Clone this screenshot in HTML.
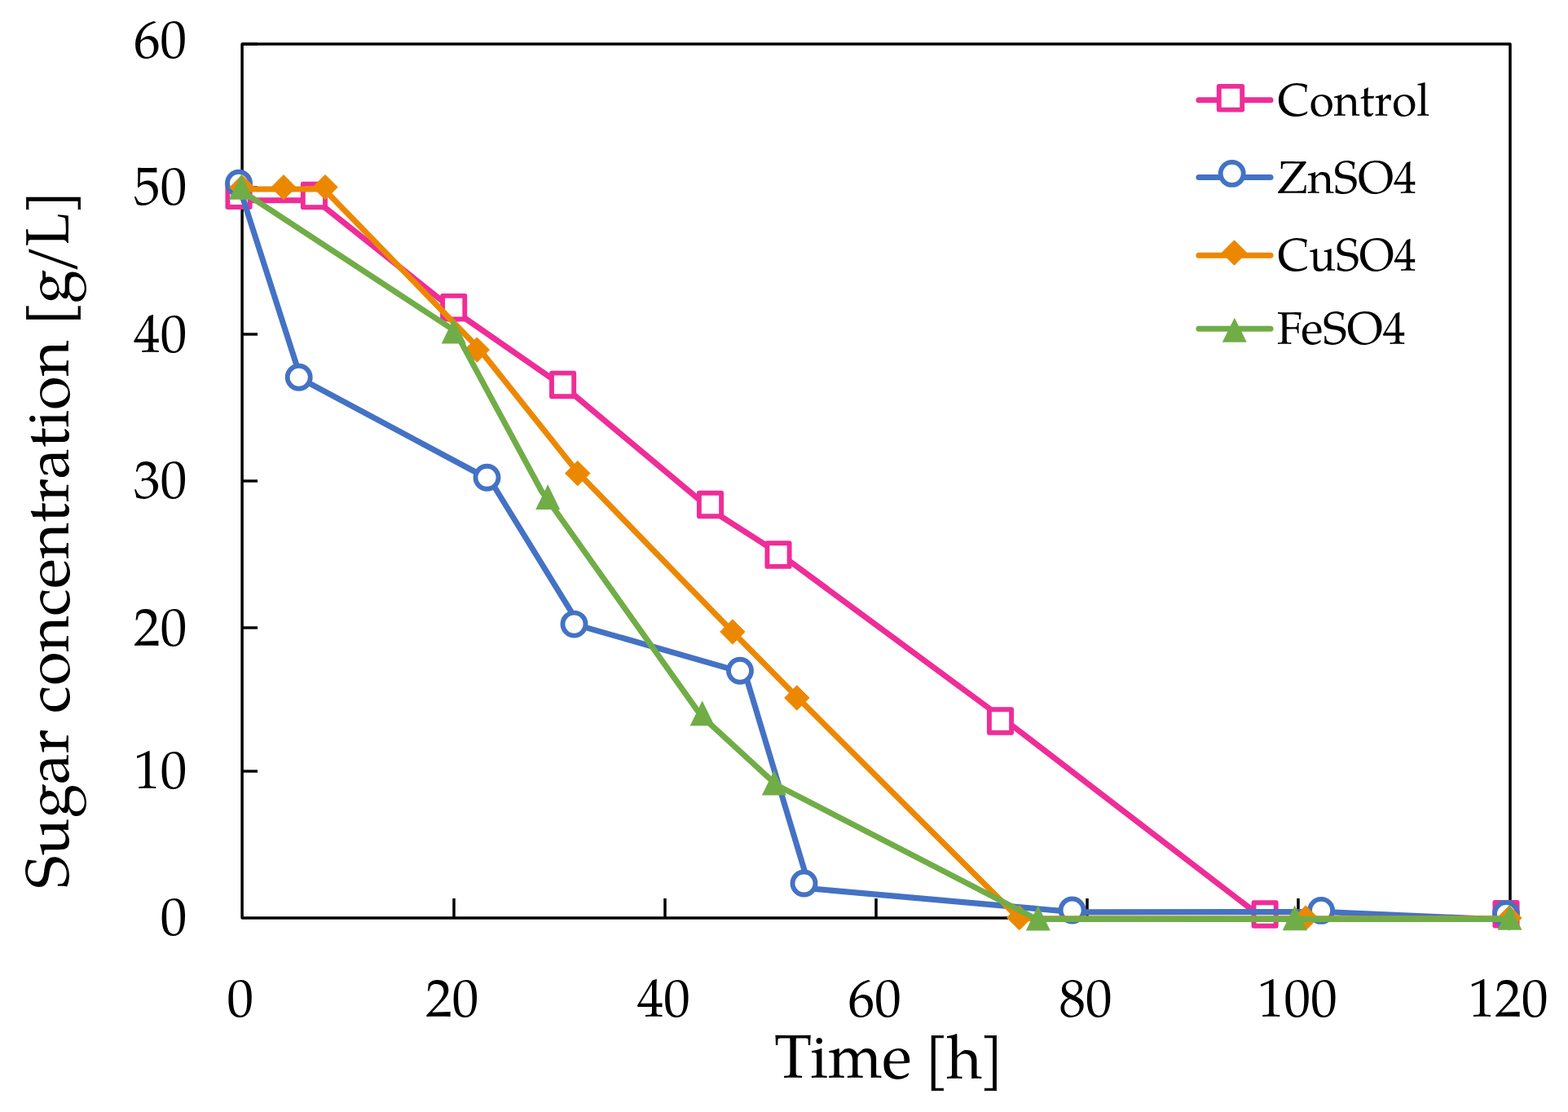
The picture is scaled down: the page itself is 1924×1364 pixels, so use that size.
<!DOCTYPE html>
<html><head><meta charset="utf-8"><title>Sugar concentration chart</title>
<style>
html,body{margin:0;padding:0;background:#fff;}
body{width:1924px;height:1364px;overflow:hidden;}
svg{display:block;}
text{font-family:'TeX Gyre Pagella', 'Palatino Linotype', 'Book Antiqua', Palatino, 'Liberation Serif', serif;fill:#000;}
</style></head><body>
<svg width="1924" height="1364" viewBox="0 0 1924 1364">
<rect width="1924" height="1364" fill="#fff"/>
<path d="M297.1,54 H1853 V1125.9 H297.1 Z" fill="none" stroke="#000" stroke-width="3.5" stroke-linejoin="round"/>
<line x1="297.1" y1="946" x2="316" y2="946" stroke="#000" stroke-width="3.4"/>
<line x1="297.1" y1="770" x2="316" y2="770" stroke="#000" stroke-width="3.4"/>
<line x1="297.1" y1="590" x2="316" y2="590" stroke="#000" stroke-width="3.4"/>
<line x1="297.1" y1="410" x2="316" y2="410" stroke="#000" stroke-width="3.4"/>
<line x1="297.1" y1="230" x2="316" y2="230" stroke="#000" stroke-width="3.4"/>
<line x1="297.1" y1="54" x2="316" y2="54" stroke="#000" stroke-width="3.4"/>
<line x1="557" y1="1102" x2="557" y2="1125.9" stroke="#000" stroke-width="3.5"/>
<line x1="816" y1="1102" x2="816" y2="1125.9" stroke="#000" stroke-width="3.5"/>
<line x1="1075" y1="1102" x2="1075" y2="1125.9" stroke="#000" stroke-width="3.5"/>
<line x1="1334" y1="1102" x2="1334" y2="1125.9" stroke="#000" stroke-width="3.5"/>
<line x1="1593" y1="1102" x2="1593" y2="1125.9" stroke="#000" stroke-width="3.5"/>
<polyline points="293.0,245.8 387.7,245.8 560.7,383.5 694.6,476.3 875.5,627.5 959.0,681.0 1231.5,882.0 1551.0,1127.3 1852.0,1127.3" fill="none" stroke="#EF2D98" stroke-width="7.1" stroke-linejoin="round" stroke-linecap="round"/>
<rect x="279.4" y="225.4" width="27.2" height="28.6" fill="#fff" stroke="#EF2D98" stroke-width="5.9" stroke-linejoin="round"/>
<rect x="371.8" y="225.7" width="27.2" height="28.6" fill="#fff" stroke="#EF2D98" stroke-width="5.9" stroke-linejoin="round"/>
<rect x="543.1" y="362.9" width="27.2" height="28.6" fill="#fff" stroke="#EF2D98" stroke-width="5.9" stroke-linejoin="round"/>
<rect x="677.0" y="457.6" width="27.2" height="28.6" fill="#fff" stroke="#EF2D98" stroke-width="5.9" stroke-linejoin="round"/>
<rect x="857.9" y="604.7" width="27.2" height="28.6" fill="#fff" stroke="#EF2D98" stroke-width="5.9" stroke-linejoin="round"/>
<rect x="941.4" y="666.3" width="27.2" height="28.6" fill="#fff" stroke="#EF2D98" stroke-width="5.9" stroke-linejoin="round"/>
<rect x="1213.9" y="870.2" width="27.2" height="28.6" fill="#fff" stroke="#EF2D98" stroke-width="5.9" stroke-linejoin="round"/>
<rect x="1538.5" y="1107.2" width="27.2" height="28.6" fill="#fff" stroke="#EF2D98" stroke-width="5.9" stroke-linejoin="round"/>
<rect x="1834.4" y="1107.0" width="27.2" height="28.6" fill="#fff" stroke="#EF2D98" stroke-width="5.9" stroke-linejoin="round"/>
<polyline points="293.2,228.0 369.3,464.6 601.3,588.5 711.5,767.6 914.1,825.6 993.8,1089.9 1319.6,1118.9 1625.0,1118.5 1850.0,1128.3" fill="none" stroke="#4472C4" stroke-width="7.1" stroke-linejoin="round" stroke-linecap="round"/>
<circle cx="293.0" cy="224.7" r="14.0" fill="#fff" stroke="#4472C4" stroke-width="5.9"/>
<circle cx="366.7" cy="462.7" r="14.0" fill="#fff" stroke="#4472C4" stroke-width="5.9"/>
<circle cx="597.5" cy="585.8" r="14.0" fill="#fff" stroke="#4472C4" stroke-width="5.9"/>
<circle cx="704.5" cy="765.6" r="14.0" fill="#fff" stroke="#4472C4" stroke-width="5.9"/>
<circle cx="908.0" cy="822.7" r="14.0" fill="#fff" stroke="#4472C4" stroke-width="5.9"/>
<circle cx="986.5" cy="1083.5" r="14.0" fill="#fff" stroke="#4472C4" stroke-width="5.9"/>
<circle cx="1315.6" cy="1116.5" r="14.0" fill="#fff" stroke="#4472C4" stroke-width="5.9"/>
<circle cx="1621.1" cy="1116.9" r="14.0" fill="#fff" stroke="#4472C4" stroke-width="5.9"/>
<circle cx="1848.0" cy="1121.0" r="14.0" fill="#fff" stroke="#4472C4" stroke-width="5.9"/>
<polyline points="297.0,232.0 348.0,232.0 397.5,232.0 588.0,428.0 708.6,579.1 899.0,775.0 978.0,855.0 1250.5,1126.8 1602.0,1126.8 1852.0,1126.8" fill="none" stroke="#EC8800" stroke-width="7.1" stroke-linejoin="round" stroke-linecap="round"/>
<path d="M297.0,214.6 L312.2,229.8 L297.0,245.0 L281.8,229.8 Z" fill="#EC8800" stroke="#EC8800" stroke-width="1" stroke-linejoin="round"/>
<path d="M348.0,214.6 L363.2,229.8 L348.0,245.0 L332.8,229.8 Z" fill="#EC8800" stroke="#EC8800" stroke-width="1" stroke-linejoin="round"/>
<path d="M399.0,214.4 L414.2,229.6 L399.0,244.8 L383.8,229.6 Z" fill="#EC8800" stroke="#EC8800" stroke-width="1" stroke-linejoin="round"/>
<path d="M585.3,413.9 L600.5,429.1 L585.3,444.3 L570.1,429.1 Z" fill="#EC8800" stroke="#EC8800" stroke-width="1" stroke-linejoin="round"/>
<path d="M708.8,565.4 L724.0,580.6 L708.8,595.8 L693.6,580.6 Z" fill="#EC8800" stroke="#EC8800" stroke-width="1" stroke-linejoin="round"/>
<path d="M898.9,759.8 L914.1,775.0 L898.9,790.2 L883.7,775.0 Z" fill="#EC8800" stroke="#EC8800" stroke-width="1" stroke-linejoin="round"/>
<path d="M977.8,840.8 L993.0,856.0 L977.8,871.2 L962.6,856.0 Z" fill="#EC8800" stroke="#EC8800" stroke-width="1" stroke-linejoin="round"/>
<path d="M1250.8,1110.4 L1266.0,1125.6 L1250.8,1140.8 L1235.6,1125.6 Z" fill="#EC8800" stroke="#EC8800" stroke-width="1" stroke-linejoin="round"/>
<path d="M1602.1,1110.8 L1617.3,1126.0 L1602.1,1141.2 L1586.9,1126.0 Z" fill="#EC8800" stroke="#EC8800" stroke-width="1" stroke-linejoin="round"/>
<path d="M1852.0,1110.8 L1867.2,1126.0 L1852.0,1141.2 L1836.8,1126.0 Z" fill="#EC8800" stroke="#EC8800" stroke-width="1" stroke-linejoin="round"/>
<polyline points="296.0,234.0 558.3,405.9 664.4,602.3 860.1,877.6 953.1,963.1 1272.0,1127.4 1588.7,1127.4 1852.4,1127.4" fill="none" stroke="#70AD47" stroke-width="7.1" stroke-linejoin="round" stroke-linecap="round"/>
<path d="M296.0,214.0 L311.1,244.8 L280.9,244.8 Z" fill="#70AD47"/>
<path d="M556.7,390.8 L571.8,421.6 L541.7,421.6 Z" fill="#70AD47"/>
<path d="M672.2,594.2 L687.2,625.0 L657.2,625.0 Z" fill="#70AD47"/>
<path d="M861.7,859.4 L876.8,890.2 L846.7,890.2 Z" fill="#70AD47"/>
<path d="M949.9,944.8 L964.9,975.6 L934.9,975.6 Z" fill="#70AD47"/>
<path d="M1273.8,1110.6 L1288.8,1141.4 L1258.8,1141.4 Z" fill="#70AD47"/>
<path d="M1588.7,1110.5 L1603.8,1141.3 L1573.7,1141.3 Z" fill="#70AD47"/>
<path d="M1852.4,1110.0 L1867.5,1140.8 L1837.4,1140.8 Z" fill="#70AD47"/>
<text transform="matrix(0.6520,0,0,0.6600,163.98,70.56)" font-size="100">60</text>
<text transform="matrix(0.6520,0,0,0.6600,164.08,251.11)" font-size="100">50</text>
<text transform="matrix(0.6520,0,0,0.6600,164.08,431.67)" font-size="100">40</text>
<text transform="matrix(0.6520,0,0,0.6600,164.08,611.11)" font-size="100">30</text>
<text transform="matrix(0.6520,0,0,0.6600,164.08,791.51)" font-size="100">20</text>
<text transform="matrix(0.6520,0,0,0.6600,164.08,966.62)" font-size="100">10</text>
<text transform="matrix(0.6520,0,0,0.6600,196.68,1147.01)" font-size="100">0</text>
<text transform="matrix(0.6520,0,0,0.6600,278.56,1246.71)" font-size="100">0</text>
<text transform="matrix(0.6520,0,0,0.6600,522.15,1246.71)" font-size="100">20</text>
<text transform="matrix(0.6520,0,0,0.6600,781.68,1246.88)" font-size="100">40</text>
<text transform="matrix(0.6520,0,0,0.6600,1040.56,1246.71)" font-size="100">60</text>
<text transform="matrix(0.6520,0,0,0.6600,1299.46,1246.51)" font-size="100">80</text>
<text transform="matrix(0.6520,0,0,0.6600,1542.98,1246.88)" font-size="100">100</text>
<text transform="matrix(0.6520,0,0,0.6600,1801.74,1246.88)" font-size="100">120</text>
<text transform="matrix(0.7529,0,0,0.7577,950.09,1322.08)" font-size="100">Time</text>
<text transform="matrix(0.6545,0,0,0.6720,1135.12,1320.80)" font-size="100" stroke="#000" stroke-width="1.1">[</text>
<text transform="matrix(0.7487,0,0,0.7548,1161.43,1322.52)" font-size="100">h</text>
<text transform="matrix(0.6545,0,0,0.6720,1202.64,1320.80)" font-size="100" stroke="#000" stroke-width="1.1">]</text>
<text transform="matrix(0,-0.7634,0.7500,0,84.00,1089.71)" font-size="100">Sugar</text>
<text transform="matrix(0,-0.7594,0.7500,0,84.00,874.80)" font-size="100">concentration</text>
<text transform="matrix(0,-0.7091,0.6630,0,82.23,400.26)" font-size="100" stroke="#000" stroke-width="1.1">[</text>
<text transform="matrix(0,-0.7476,0.7500,0,84.00,372.24)" font-size="100">g</text>
<text transform="matrix(0,-0.7815,0.7500,0,84.00,337.05)" font-size="100">/</text>
<text transform="matrix(0,-0.6673,0.7500,0,84.00,302.13)" font-size="100">L</text>
<text transform="matrix(0,-0.6636,0.6640,0,82.20,262.14)" font-size="100" stroke="#000" stroke-width="1.1">]</text>
<line x1="1471" y1="122.8" x2="1559" y2="122.8" stroke="#EF2D98" stroke-width="7.1" stroke-linecap="round"/>
<rect x="1495.8" y="105.9" width="28.4" height="28.7" fill="#fff" stroke="#EF2D98" stroke-width="5.9" stroke-linejoin="round"/>
<text transform="matrix(0.5493,0,0,0.5651,1567.70,141.67)" font-size="100">Control</text>
<line x1="1471" y1="217.5" x2="1559" y2="217.5" stroke="#4472C4" stroke-width="7.1" stroke-linecap="round"/>
<circle cx="1511.7" cy="212.9" r="14.0" fill="#fff" stroke="#4472C4" stroke-width="5.9"/>
<text transform="matrix(0.5575,0,0,0.5616,1567.26,236.88)" font-size="100">ZnSO4</text>
<line x1="1471" y1="313.2" x2="1559" y2="313.2" stroke="#EC8800" stroke-width="7.1" stroke-linecap="round"/>
<path d="M1514.5,294.8 L1529.7,310.0 L1514.5,325.2 L1499.3,310.0 Z" fill="#EC8800" stroke="#EC8800" stroke-width="1" stroke-linejoin="round"/>
<text transform="matrix(0.5444,0,0,0.5658,1567.71,331.87)" font-size="100">CuSO4</text>
<line x1="1471" y1="403.2" x2="1559" y2="403.2" stroke="#70AD47" stroke-width="7.1" stroke-linecap="round"/>
<path d="M1514.8,389.7 L1529.8,419.7 L1499.8,419.7 Z" fill="#70AD47"/>
<text transform="matrix(0.5600,0,0,0.5658,1566.68,421.87)" font-size="100">FeSO4</text>
</svg>
</body></html>
